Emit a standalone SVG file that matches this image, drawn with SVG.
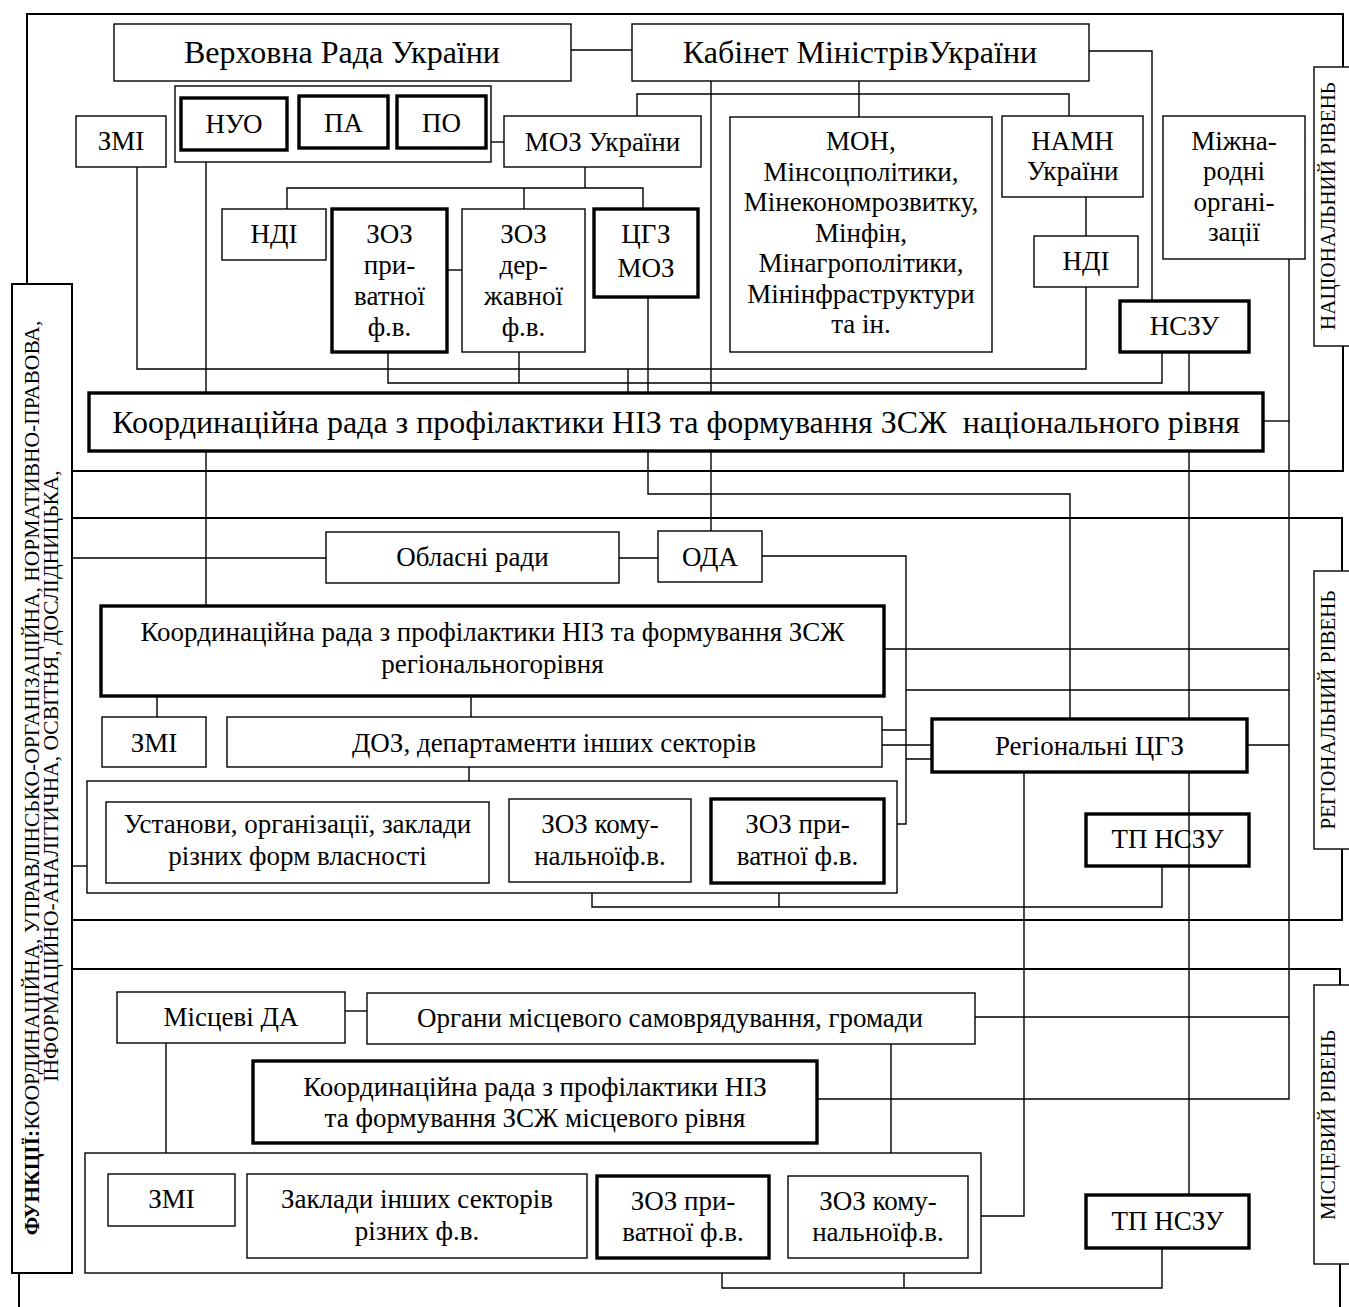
<svg xmlns="http://www.w3.org/2000/svg" width="1349" height="1307" viewBox="0 0 1349 1307">
<style>
text{font-family:"Liberation Serif","Times New Roman",serif;fill:#000;text-anchor:middle}
.b{fill:#fff;stroke:#000;stroke-width:1.4}
.t{fill:#fff;stroke:#000;stroke-width:3.4}
.tn{fill:none;stroke:#000;stroke-width:3.4}
.fr{fill:none;stroke:#000;stroke-width:2}
.c path{fill:none;stroke:#000;stroke-width:1.4}
.L{font-size:32px}
.n{font-size:27px}
.s{font-size:27px}
.r{font-size:21px}
.fn{font-size:21.5px}
</style>
<rect width="1349" height="1307" fill="#fff"/>
<g id="frames">
<rect class="fr" x="27" y="14" width="1316" height="457"/>
<rect class="fr" x="27" y="518" width="1315" height="402"/>
<path class="fr" d="M19 1307V969H1340V1307"/>
</g>
<g class="c" id="connectors">
<path d="M571 50H632"/>
<path d="M1089 51H1152V301"/>
<path d="M859 81V117"/>
<path d="M711 81V532"/>
<path d="M637 116V94H1069V116"/>
<path d="M491 142H504"/>
<path d="M585 167V188M287 209V188H643V209M524 188V209"/>
<path d="M447 270H462"/>
<path d="M1086 197V236"/>
<path d="M137 167V369H1086V287"/>
<path d="M388 352V383H1162V352M519 352V383"/>
<path d="M628 369V393"/>
<path d="M648 297V494H1070V719"/>
<path d="M206 162V606"/>
<path d="M1189 352V1195"/>
<path d="M1289 259V1099H817"/>
<path d="M1263 421H1289"/>
<path d="M72 558H326M619 558H658"/>
<path d="M762 556H906V824H897"/>
<path d="M882 730H906M882 745H932M906 759H932"/>
<path d="M906 690H1289"/>
<path d="M884 649H1289"/>
<path d="M1247 745H1289"/>
<path d="M157 696V717M471 696V717"/>
<path d="M469 767V781M300 781V802M603 781V799"/>
<path d="M72 866H87"/>
<path d="M489 833H509M691 832H711"/>
<path d="M592 882V907H1162V866M779 883V907"/>
<path d="M1024 772V1216H981"/>
<path d="M345 1011H367"/>
<path d="M975 1017H1289"/>
<path d="M166 1043V1153"/>
<path d="M182 1153V1174M439 1153V1174M905 1153V1176"/>
<path d="M891 1044V1153"/>
<path d="M769 1210H788"/>
<path d="M722 1258V1288H1162V1248M904 1258V1288"/>
</g>
<g id="functions"><rect class="fr" style="fill:#fff" x="12" y="284" width="60" height="989"/>
<text class="fn" transform="translate(39 778) rotate(-90)"><tspan font-weight="bold">ФУНКЦІЇ:</tspan>КООРДИНАЦІЙНА, УПРАВЛІНСЬКО-ОРГАНІЗАЦІЙНА, НОРМАТИВНО-ПРАВОВА,</text>
<text class="fn" transform="translate(58 776) rotate(-90)">ІНФОРМАЦІЙНО-АНАЛІТИЧНА, ОСВІТНЯ, ДОСЛІДНИЦЬКА,</text></g>
<g id="lbl-nat"><rect class="b" x="1314" y="67" width="40" height="279"/><text class="r" transform="translate(1335 206) rotate(-90)">НАЦІОНАЛЬНИЙ РІВЕНЬ</text></g>
<g id="lbl-reg"><rect class="b" x="1314" y="571" width="40" height="278"/><text class="r" transform="translate(1335 710) rotate(-90)">РЕГІОНАЛЬНИЙ РІВЕНЬ</text></g>
<g id="lbl-loc"><rect class="b" x="1314" y="985" width="40" height="279"/><text class="r" transform="translate(1335 1125) rotate(-90)">МІСЦЕВИЙ РІВЕНЬ</text></g>
<g id="vru"><rect class="b" x="114" y="24" width="457" height="57"/><text class="L" x="342" y="63">Верховна Рада України</text></g>
<g id="kmu"><rect class="b" x="632" y="24" width="457" height="57"/><text class="L" x="860" y="63">Кабінет МіністрівУкраїни</text></g>
<g id="group"><rect class="b" x="175" y="86" width="316" height="76"/></g>
<g id="nuo"><rect class="t" x="181" y="98" width="106" height="52"/><text class="n" x="234" y="133">НУО</text></g>
<g id="pa"><rect class="t" x="299" y="96" width="89" height="52"/><text class="n" x="343.5" y="132">ПА</text></g>
<g id="po"><rect class="t" x="397" y="96" width="89" height="52"/><text class="n" x="441.5" y="132">ПО</text></g>
<g id="zmi-n"><rect class="b" x="76" y="116" width="90" height="51"/><text class="n" x="121" y="150">ЗМІ</text></g>
<g id="moz"><rect class="b" x="504" y="116" width="197" height="51"/><text class="n" x="602.5" y="151">МОЗ України</text></g>
<g id="mon"><rect class="b" x="730" y="117" width="262" height="235"/><text class="s" x="861"><tspan x="861" y="150">МОН,</tspan><tspan x="861" y="180.5">Мінсоцполітики,</tspan><tspan x="861" y="211">Мінекономрозвитку,</tspan><tspan x="861" y="241.5">Мінфін,</tspan><tspan x="861" y="272">Мінагрополітики,</tspan><tspan x="861" y="302.5">Мінінфраструктури</tspan><tspan x="861" y="333">та ін.</tspan></text></g>
<g id="namn"><rect class="b" x="1002" y="116" width="141" height="81"/><text class="n" x="1072.5"><tspan x="1072.5" y="150">НАМН</tspan><tspan x="1072.5" y="180">України</tspan></text></g>
<g id="ndi-r"><rect class="b" x="1034" y="236" width="104" height="51"/><text class="n" x="1086" y="270">НДІ</text></g>
<g id="intl"><rect class="b" x="1163" y="116" width="142" height="143"/><text class="n" x="1234"><tspan x="1234" y="150">Міжна-</tspan><tspan x="1234" y="180">родні</tspan><tspan x="1234" y="211">органі-</tspan><tspan x="1234" y="241">зації</tspan></text></g>
<g id="ndi-l"><rect class="b" x="222" y="209" width="104" height="51"/><text class="n" x="274" y="243">НДІ</text></g>
<g id="zoz-pr-n"><rect class="t" x="332" y="209" width="115" height="143"/><text class="n" x="389.5"><tspan x="389.5" y="243">ЗОЗ</tspan><tspan x="389.5" y="274">при-</tspan><tspan x="389.5" y="305">ватної</tspan><tspan x="389.5" y="336">ф.в.</tspan></text></g>
<g id="zoz-dz-n"><rect class="b" x="462" y="209" width="123" height="143"/><text class="n" x="523.5"><tspan x="523.5" y="243">ЗОЗ</tspan><tspan x="523.5" y="274">дер-</tspan><tspan x="523.5" y="305">жавної</tspan><tspan x="523.5" y="336">ф.в.</tspan></text></g>
<g id="cgz-moz"><rect class="t" x="594" y="209" width="104" height="88"/><text class="n" x="646"><tspan x="646" y="243">ЦГЗ</tspan><tspan x="646" y="277">МОЗ</tspan></text></g>
<g id="nszu"><rect class="t" x="1120" y="301" width="129" height="51"/><text class="n" x="1184.5" y="335">НСЗУ</text></g>
<g id="rada-n"><rect class="t" x="89" y="393" width="1174" height="58"/><text class="L" x="676" y="433" xml:space="preserve">Координаційна рада з профілактики НІЗ та формування ЗСЖ  національного рівня</text></g>
<g id="obl"><rect class="b" x="326" y="532" width="293" height="51"/><text class="n" x="472.5" y="566">Обласні ради</text></g>
<g id="oda"><rect class="b" x="658" y="531" width="104" height="51"/><text class="n" x="710" y="566">ОДА</text></g>
<g id="rada-r"><rect class="t" x="101" y="606" width="783" height="90"/><text class="n" x="492.5"><tspan x="492.5" y="641">Координаційна рада з профілактики НІЗ та формування ЗСЖ</tspan><tspan x="492.5" y="673">регіональногорівня</tspan></text></g>
<g id="zmi-r"><rect class="b" x="102" y="717" width="104" height="50"/><text class="n" x="154" y="752">ЗМІ</text></g>
<g id="doz"><rect class="b" x="227" y="717" width="655" height="50"/><text class="n" x="554" y="752">ДОЗ, департаменти інших секторів</text></g>
<g id="cont-r"><rect class="b" x="87" y="781" width="810" height="112"/></g>
<g id="ustanovy"><rect class="b" x="106" y="802" width="383" height="81"/><text class="n" x="297.5"><tspan x="297.5" y="833">Установи, організації, заклади</tspan><tspan x="297.5" y="865">різних форм власності</tspan></text></g>
<g id="zoz-km-r"><rect class="b" x="509" y="799" width="182" height="83"/><text class="n" x="600"><tspan x="600" y="833">ЗОЗ кому-</tspan><tspan x="600" y="865">нальноїф.в.</tspan></text></g>
<g id="zoz-pr-r"><rect class="t" x="711" y="799" width="173" height="84"/><text class="n" x="797.5"><tspan x="797.5" y="833">ЗОЗ при-</tspan><tspan x="797.5" y="865">ватної ф.в.</tspan></text></g>
<g id="cgz-r"><rect class="t" x="932" y="719" width="315" height="53"/><text class="n" x="1089.5" y="755">Регіональні ЦГЗ</text></g>
<g id="tp-r"><rect class="tn" x="1086" y="814" width="163" height="52"/><text class="n" x="1167.5" y="848">ТП НСЗУ</text></g>
<g id="mda"><rect class="b" x="117" y="992" width="228" height="51"/><text class="n" x="231" y="1026">Місцеві ДА</text></g>
<g id="organy"><rect class="b" x="367" y="993" width="608" height="51"/><text class="n" x="670" y="1027">Органи місцевого самоврядування, громади</text></g>
<g id="rada-l"><rect class="t" x="253" y="1061" width="564" height="82"/><text class="n" x="535"><tspan x="535" y="1096">Координаційна рада з профілактики НІЗ</tspan><tspan x="535" y="1127">та формування ЗСЖ місцевого рівня</tspan></text></g>
<g id="cont-l"><rect class="b" x="85" y="1153" width="896" height="120"/></g>
<g id="zmi-l"><rect class="b" x="108" y="1174" width="127" height="52"/><text class="n" x="171.5" y="1208">ЗМІ</text></g>
<g id="zaklady"><rect class="b" x="247" y="1174" width="340" height="84"/><text class="n" x="417"><tspan x="417" y="1208">Заклади інших секторів</tspan><tspan x="417" y="1240">різних ф.в.</tspan></text></g>
<g id="zoz-pr-l"><rect class="t" x="597" y="1176" width="172" height="82"/><text class="n" x="683"><tspan x="683" y="1210">ЗОЗ при-</tspan><tspan x="683" y="1241">ватної ф.в.</tspan></text></g>
<g id="zoz-km-l"><rect class="b" x="788" y="1176" width="180" height="82"/><text class="n" x="878"><tspan x="878" y="1210">ЗОЗ кому-</tspan><tspan x="878" y="1241">нальноїф.в.</tspan></text></g>
<g id="tp-l"><rect class="t" x="1086" y="1195" width="163" height="53"/><text class="n" x="1167.5" y="1230">ТП НСЗУ</text></g>
</svg>
